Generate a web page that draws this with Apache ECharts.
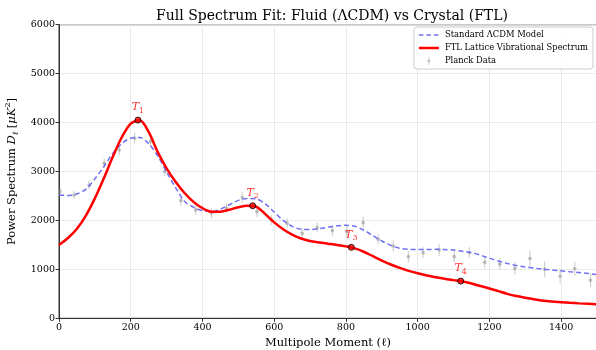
<!DOCTYPE html>
<html><head><meta charset="utf-8">
<script src="https://cdn.jsdelivr.net/npm/echarts@6/dist/echarts.min.js"></script>
<style>html,body{margin:0;padding:0;background:#fff}#c{width:596px;height:350px}</style>
</head><body><div id="c"></div>
<script>
// Multipole grid for the model curves
const curveL = [0,25,50,75,100,125,150,175,200,225,250,275,300,325,350,375,400,425,450,475,500,525,550,575,600,625,650,675,700,725,750,775,800,825,850,875,900,925,950,975,1000,1025,1050,1075,1100,1125,1150,1175,1200,1225,1250,1275,1300,1325,1350,1375,1400,1425,1450,1475,1500];
// ΛCDM model curve D_ℓ
const lcdmD = [2520,2510,2540,2640,2850,3100,3370,3570,3680,3695,3570,3320,2990,2670,2390,2270,2200,2180,2230,2320,2410,2450,2440,2340,2170,2000,1880,1820,1815,1830,1860,1890,1900,1880,1800,1690,1580,1490,1430,1410,1405,1405,1410,1405,1395,1370,1340,1290,1230,1170,1120,1080,1050,1025,1005,985,970,950,935,915,895];
// FTL lattice curve D_ℓ
const ftlD = [1500,1640,1830,2100,2450,2860,3300,3700,3980,4045,3810,3400,3065,2790,2560,2380,2250,2180,2180,2220,2270,2300,2280,2130,1960,1820,1710,1630,1580,1550,1525,1500,1470,1430,1360,1270,1180,1100,1030,970,920,875,840,808,780,752,710,660,610,555,500,455,420,388,360,343,330,317,305,295,285];
// Planck data points
const planckL = [3,42,84,126,168,211,255,295,340,381,425,467,511,552,592,636,678,720,762,803,848,890,932,974,1015,1060,1102,1144,1187,1229,1271,1313,1354,1397,1438,1482];
const planckD = [2590,2520,2725,3170,3440,3680,3612,3000,2405,2215,2150,2250,2470,2180,2010,1943,1738,1853,1791,1771,1955,1615,1479,1260,1342,1397,1260,1345,1145,1107,1020,1222,1002,858,1012,776];
const planckErr = [80,80,90,100,100,110,110,100,100,100,100,100,110,110,100,100,100,100,110,110,120,110,120,120,110,130,120,110,120,120,130,160,160,140,140,140];
// Resonance markers
const tL = [220,540,815,1120];
const tD = [4050,2300,1450,760];
const tNames = ['1','2','3','4'];

const FONT = 'DejaVu Serif';
const chart = echarts.init(document.getElementById('c'), null, {renderer:'canvas'});
const zip = (a,b)=>a.map((v,i)=>[v,b[i]]);
const C = 'M0,0h0.01v0.01h-0.01z M19.99,9.99h0.01v0.01h-0.01z ';

chart.setOption({
  animation:false,
  backgroundColor:'#fff',
  title:{text:'Full Spectrum Fit: Fluid (ΛCDM) vs Crystal (FTL)', left:327, textAlign:'center', top:4,
    textStyle:{fontFamily:FONT, fontSize:14, fontWeight:'normal', color:'#000'}},
  grid:{left:59, right:-1, top:24.7, bottom:31.7, outerBoundsMode:'none', containLabel:false,
    show:true, borderColor:'#333', borderWidth:1, backgroundColor:'transparent'},
  legend:{right:3, top:27, orient:'vertical', align:'left', padding:[3,5,3,5], itemWidth:20, itemHeight:10, itemGap:3,
    backgroundColor:'rgba(255,255,255,0.8)', borderColor:'#ccc', borderWidth:1, borderRadius:3,
    textStyle:{fontFamily:FONT, fontSize:8.4, color:'#000', padding:[0,0,0,1]},
    data:[
      {name:'Standard ΛCDM Model', icon:'path://'+C+'M0,4.3h4.5v1.4h-4.5z M7.5,4.3h4.5v1.4h-4.5z M15,4.3h4.5v1.4h-4.5z', itemStyle:{color:'#6f6ff5'}},
      {name:'FTL Lattice Vibrational Spectrum', icon:'path://'+C+'M0,3.7h20v2.6h-20z', itemStyle:{color:'#ff0000'}},
      {name:'Planck Data', icon:'path://'+C+'M9.7,1h0.6v8h-0.6z M10,3.6a1.4,1.4 0 1,0 0.001,0z', itemStyle:{color:'#aaa'}}]},
  xAxis:{type:'value', min:0, max:1500, interval:200,
    name:'Multipole Moment (ℓ)', nameLocation:'middle', nameGap:18,
    nameTextStyle:{fontFamily:FONT, fontSize:11.5, color:'#000'},
    axisLine:{lineStyle:{color:'#333'}}, axisTick:{show:true, length:3.5, lineStyle:{color:'#333'}},
    axisLabel:{fontFamily:FONT, fontSize:9.5, color:'#000', margin:4, showMaxLabel:false, formatter:v=>String(v)},
    splitLine:{show:true, lineStyle:{color:'#e6e6e6', width:0.8}}},
  yAxis:{type:'value', min:0, max:6000, interval:1000,
    name:'{n|Power Spectrum }{i|D}{sb|ℓ}{n| [}{i|μK}{sp|2}{n|]}', nameLocation:'middle', nameGap:30,
    nameTextStyle:{fontFamily:FONT, fontSize:11.5, color:'#000',
      rich:{n:{fontFamily:FONT, fontSize:11.5, lineHeight:16, verticalAlign:'middle'},
            i:{fontFamily:FONT, fontSize:11.5, fontStyle:'italic', lineHeight:16, verticalAlign:'middle'},
            sb:{fontFamily:FONT, fontSize:8, fontStyle:'italic', lineHeight:16, verticalAlign:'bottom'},
            sp:{fontFamily:FONT, fontSize:8, lineHeight:16, verticalAlign:'top'}}},
    axisLine:{show:true, lineStyle:{color:'#333'}}, axisTick:{show:true, length:3.5, lineStyle:{color:'#333'}},
    axisLabel:{fontFamily:FONT, fontSize:9.5, color:'#000', margin:4, formatter:v=>String(v)},
    splitLine:{show:true, lineStyle:{color:'#e6e6e6', width:0.8}}},
  series:[
    {type:'custom', name:'Planck Data', data:planckL.map((l,i)=>[l,planckD[i],planckErr[i]]),
      itemStyle:{color:'#aaa'}, z:1,
      renderItem:(params, api)=>{
        const x=api.value(0), y=api.value(1), e=api.value(2);
        const p1=api.coord([x,y-e]), p2=api.coord([x,y+e]), c=api.coord([x,y]);
        return {type:'group', children:[
          {type:'line', shape:{x1:p1[0],y1:p1[1],x2:p2[0],y2:p2[1]}, style:{stroke:'rgba(150,150,150,0.5)', lineWidth:1}},
          {type:'circle', shape:{cx:c[0],cy:c[1],r:1.8}, style:{fill:'rgba(150,150,150,0.6)'}}
        ]};
      }},
    {type:'line', name:'Standard ΛCDM Model', data:zip(curveL,lcdmD), smooth:0.3, symbol:'none', z:2,
      itemStyle:{color:'#6f6ff5'}, lineStyle:{color:'#6f6ff5', width:1.5, type:[5,3]}},
    {type:'line', name:'FTL Lattice Vibrational Spectrum', data:zip(curveL,ftlD), smooth:0.3, symbol:'none', z:3,
      itemStyle:{color:'#ff0000'}, lineStyle:{color:'#ff0000', width:2.5}},
    {type:'scatter', name:'T', data:tL.map((l,i)=>({value:[l,tD[i]], label:{formatter:'{t|T}{s|'+tNames[i]+'}'}})),
      symbol:'circle', symbolSize:6, z:4, itemStyle:{color:'#ff0000', borderColor:'#000', borderWidth:1},
      label:{show:true, position:'top', distance:2, color:'#ff0000',
        rich:{t:{fontFamily:FONT, fontSize:11, fontStyle:'italic', color:'#ff0000', lineHeight:14, verticalAlign:'middle'},
              s:{fontFamily:FONT, fontSize:8, color:'#ff0000', lineHeight:14, verticalAlign:'bottom'}}}}
  ]
});
</script></body></html>
